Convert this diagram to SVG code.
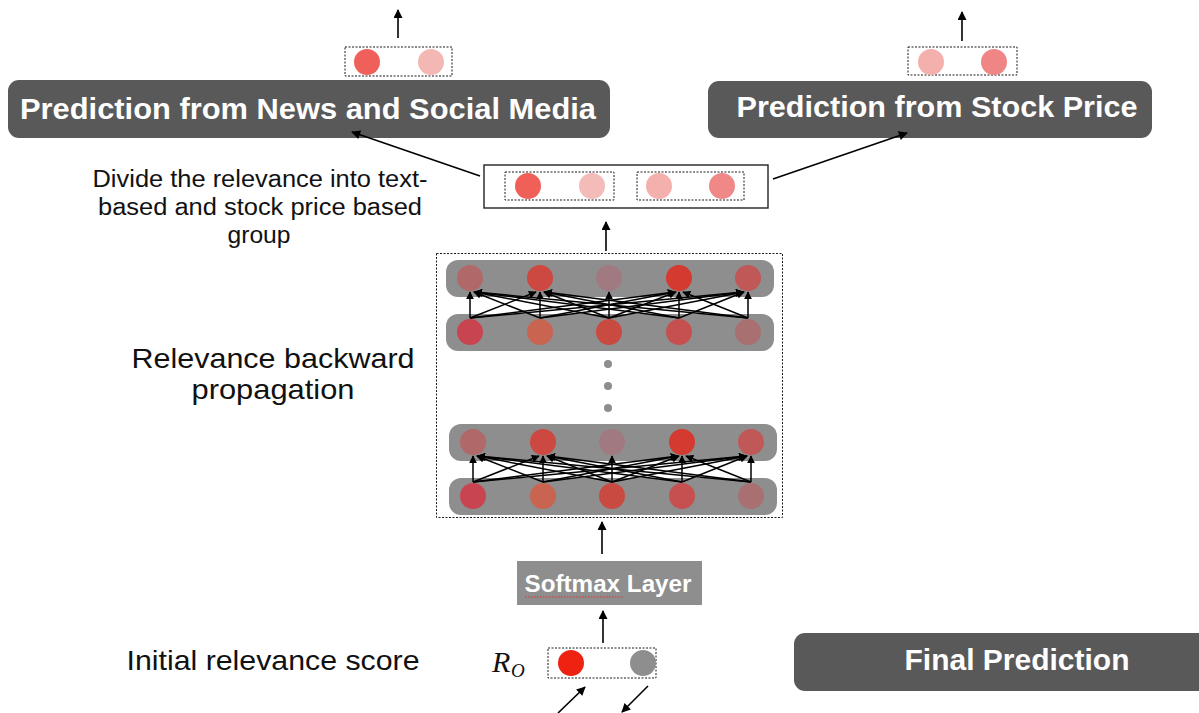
<svg xmlns="http://www.w3.org/2000/svg" xmlns:xlink="http://www.w3.org/1999/xlink" width="1199" height="713" viewBox="0 0 1199 713">
  <style>
    .banner { fill: #595959; }
    .banner-text { font-family: "Liberation Sans", Arial, sans-serif; font-weight: bold; fill: #ffffff; text-anchor: middle; }
    .label { font-family: "Liberation Sans", Arial, sans-serif; fill: #111111; text-anchor: middle; }
    .math { font-family: "Liberation Serif", "Times New Roman", serif; font-style: italic; fill: #111111; }
    .dotted { fill: #ffffff; stroke: #1a1a1a; stroke-width: 1; stroke-dasharray: 2 1.5; }
    .dotted-none { fill: none; stroke: #1a1a1a; stroke-width: 1; stroke-dasharray: 2 1.5; }
    .row { fill: #8e8e8e; }
    .wire { fill: none; stroke: #000000; stroke-width: 1.5; marker-end: url(#headSmall); }
    .arrow { fill: none; stroke: #000000; stroke-width: 1.6; marker-end: url(#head); }
  </style>
  <defs>
    <marker id="head" viewBox="0 0 10 10" refX="9" refY="5" markerWidth="10" markerHeight="9" markerUnits="userSpaceOnUse" orient="auto">
      <path d="M0,0 L10,5 L0,10 z" fill="#000000"/>
    </marker>
    <marker id="headSmall" viewBox="0 0 10 10" refX="9" refY="5" markerWidth="8" markerHeight="8" markerUnits="userSpaceOnUse" orient="auto">
      <path d="M0,0 L10,5 L0,10 z" fill="#000000"/>
    </marker>
    <!-- two fully connected layers: lower row feeds relevance into the upper row -->
    <g id="layerPair">
      <rect class="row" x="446" y="260" width="328" height="37" rx="12"/>
      <rect class="row" x="446" y="314" width="328" height="37" rx="12"/>
      <circle cx="470" cy="278" r="13" fill="#b06868"/>
      <circle cx="540" cy="278" r="13" fill="#cc4840"/>
      <circle cx="609" cy="278" r="13" fill="#a07a80"/>
      <circle cx="679" cy="278" r="13" fill="#d43a30"/>
      <circle cx="748" cy="278" r="13" fill="#c05858"/>
      <circle cx="470" cy="332" r="13" fill="#c84450"/>
      <circle cx="540" cy="332" r="13" fill="#c86450"/>
      <circle cx="609" cy="332" r="13" fill="#c84a40"/>
      <circle cx="679" cy="332" r="13" fill="#c65050"/>
      <circle cx="748" cy="332" r="13" fill="#a87070"/>
      <path class="wire" d="M470,318 L470,292"/>
      <path class="wire" d="M540,318 L474,292"/>
      <path class="wire" d="M609,318 L474,292"/>
      <path class="wire" d="M679,318 L475,292"/>
      <path class="wire" d="M748,318 L475,292"/>
      <path class="wire" d="M470,318 L536,292"/>
      <path class="wire" d="M540,318 L540,292"/>
      <path class="wire" d="M609,318 L544,292"/>
      <path class="wire" d="M679,318 L544,292"/>
      <path class="wire" d="M748,318 L545,292"/>
      <path class="wire" d="M609,318 L609,292"/>
      <path class="wire" d="M470,318 L675,292"/>
      <path class="wire" d="M540,318 L675,292"/>
      <path class="wire" d="M609,318 L676,292"/>
      <path class="wire" d="M679,318 L679,292"/>
      <path class="wire" d="M748,318 L683,292"/>
      <path class="wire" d="M470,318 L743,292"/>
      <path class="wire" d="M540,318 L743,292"/>
      <path class="wire" d="M609,318 L744,292"/>
      <path class="wire" d="M679,318 L744,292"/>
      <path class="wire" d="M748,318 L748,292"/>
    </g>
  </defs>

  <rect width="1199" height="713" fill="#ffffff"/>

  <!-- output: news / social media -->
  <g id="out-text">
    <rect class="dotted" x="345" y="47" width="107" height="29"/>
    <circle cx="367" cy="62" r="13" fill="#f0605a"/>
    <circle cx="431" cy="62" r="13" fill="#f4b8b4"/>
  </g>
  <g id="pred-text">
    <rect class="banner" x="8" y="80" width="602" height="58" rx="11"/>
    <text class="banner-text" x="308" y="119" font-size="29" textLength="576" lengthAdjust="spacingAndGlyphs">Prediction from News and Social Media</text>
  </g>

  <!-- output: stock price -->
  <g id="out-price">
    <rect class="dotted" x="908" y="47" width="109" height="28"/>
    <circle cx="931" cy="62" r="13" fill="#f4b0ad"/>
    <circle cx="994" cy="62" r="13" fill="#f08585"/>
  </g>
  <g id="pred-price">
    <rect class="banner" x="708" y="81" width="444" height="57" rx="11"/>
    <text class="banner-text" x="937" y="117" font-size="29" textLength="401" lengthAdjust="spacingAndGlyphs">Prediction from Stock Price</text>
  </g>

  <!-- split relevance vector -->
  <g id="split">
    <rect x="484" y="165" width="284" height="43" fill="#ffffff" stroke="#222222" stroke-width="1.4"/>
    <rect class="dotted" x="505" y="172" width="109" height="28"/>
    <rect class="dotted" x="637" y="172" width="107" height="28"/>
    <circle cx="528" cy="186" r="13" fill="#f06058"/>
    <circle cx="592" cy="186" r="13" fill="#f4bcb8"/>
    <circle cx="659" cy="186" r="13" fill="#f4b0ad"/>
    <circle cx="722" cy="186" r="13" fill="#f08888"/>
  </g>
  <g id="split-label">
    <text class="label" font-size="23" x="260" y="187" textLength="335" lengthAdjust="spacingAndGlyphs">Divide the relevance into text-</text>
    <text class="label" font-size="23" x="260" y="215" textLength="324" lengthAdjust="spacingAndGlyphs">based and stock price based</text>
    <text class="label" font-size="23" x="259" y="243" textLength="63" lengthAdjust="spacingAndGlyphs">group</text>
  </g>

  <!-- backward propagation through the network -->
  <g id="network">
    <rect class="dotted-none" x="436.5" y="253.5" width="346" height="264"/>
    <use xlink:href="#layerPair"/>
    <circle cx="608" cy="364" r="4" fill="#8e8e8e"/>
    <circle cx="608" cy="386" r="4" fill="#8e8e8e"/>
    <circle cx="608" cy="408" r="4" fill="#8e8e8e"/>
    <use xlink:href="#layerPair" transform="translate(3,164)"/>
  </g>
  <g id="network-label">
    <text class="label" font-size="28" x="273" y="368" textLength="283" lengthAdjust="spacingAndGlyphs">Relevance backward</text>
    <text class="label" font-size="28" x="273" y="399" textLength="163" lengthAdjust="spacingAndGlyphs">propagation</text>
  </g>

  <!-- softmax -->
  <g id="softmax">
    <rect x="517" y="561" width="185" height="44" fill="#8e8e8e"/>
    <text class="banner-text" font-size="24" x="608" y="592" textLength="167" lengthAdjust="spacingAndGlyphs">Softmax Layer</text>
    <line x1="525" y1="597" x2="623" y2="597" stroke="#e03030" stroke-width="1.2" stroke-dasharray="1.5 1.5"/>
  </g>

  <!-- initial relevance -->
  <g id="initial">
    <rect class="dotted" x="548" y="648" width="108" height="30"/>
    <circle cx="571" cy="663" r="13" fill="#ee2211"/>
    <circle cx="643" cy="663" r="13" fill="#8e8e8e"/>
    <text class="math" font-size="30" x="492" y="672">R</text>
    <text class="math" font-size="19" x="511" y="677">O</text>
  </g>
  <g id="initial-label">
    <text class="label" font-size="28" x="273" y="670" textLength="293" lengthAdjust="spacingAndGlyphs">Initial relevance score</text>
  </g>

  <!-- final prediction -->
  <g id="final">
    <rect class="banner" x="794" y="633" width="420" height="58" rx="11"/>
    <text class="banner-text" font-size="30" x="1017" y="670" textLength="225" lengthAdjust="spacingAndGlyphs">Final Prediction</text>
  </g>

  <!-- connectors -->
  <g id="connectors">
    <path class="arrow" d="M398,38 L398,10"/>
    <path class="arrow" d="M962,41 L962,12"/>
    <path class="arrow" d="M480,176 L352,132"/>
    <path class="arrow" d="M773,179 L907,133"/>
    <path class="arrow" d="M606,251 L606,222"/>
    <path class="arrow" d="M602,554 L602,522"/>
    <path class="arrow" d="M603,643 L603,611"/>
    <path class="arrow" d="M558,713 L585,687"/>
    <path class="arrow" d="M648,686 L622,712"/>
  </g>
</svg>
